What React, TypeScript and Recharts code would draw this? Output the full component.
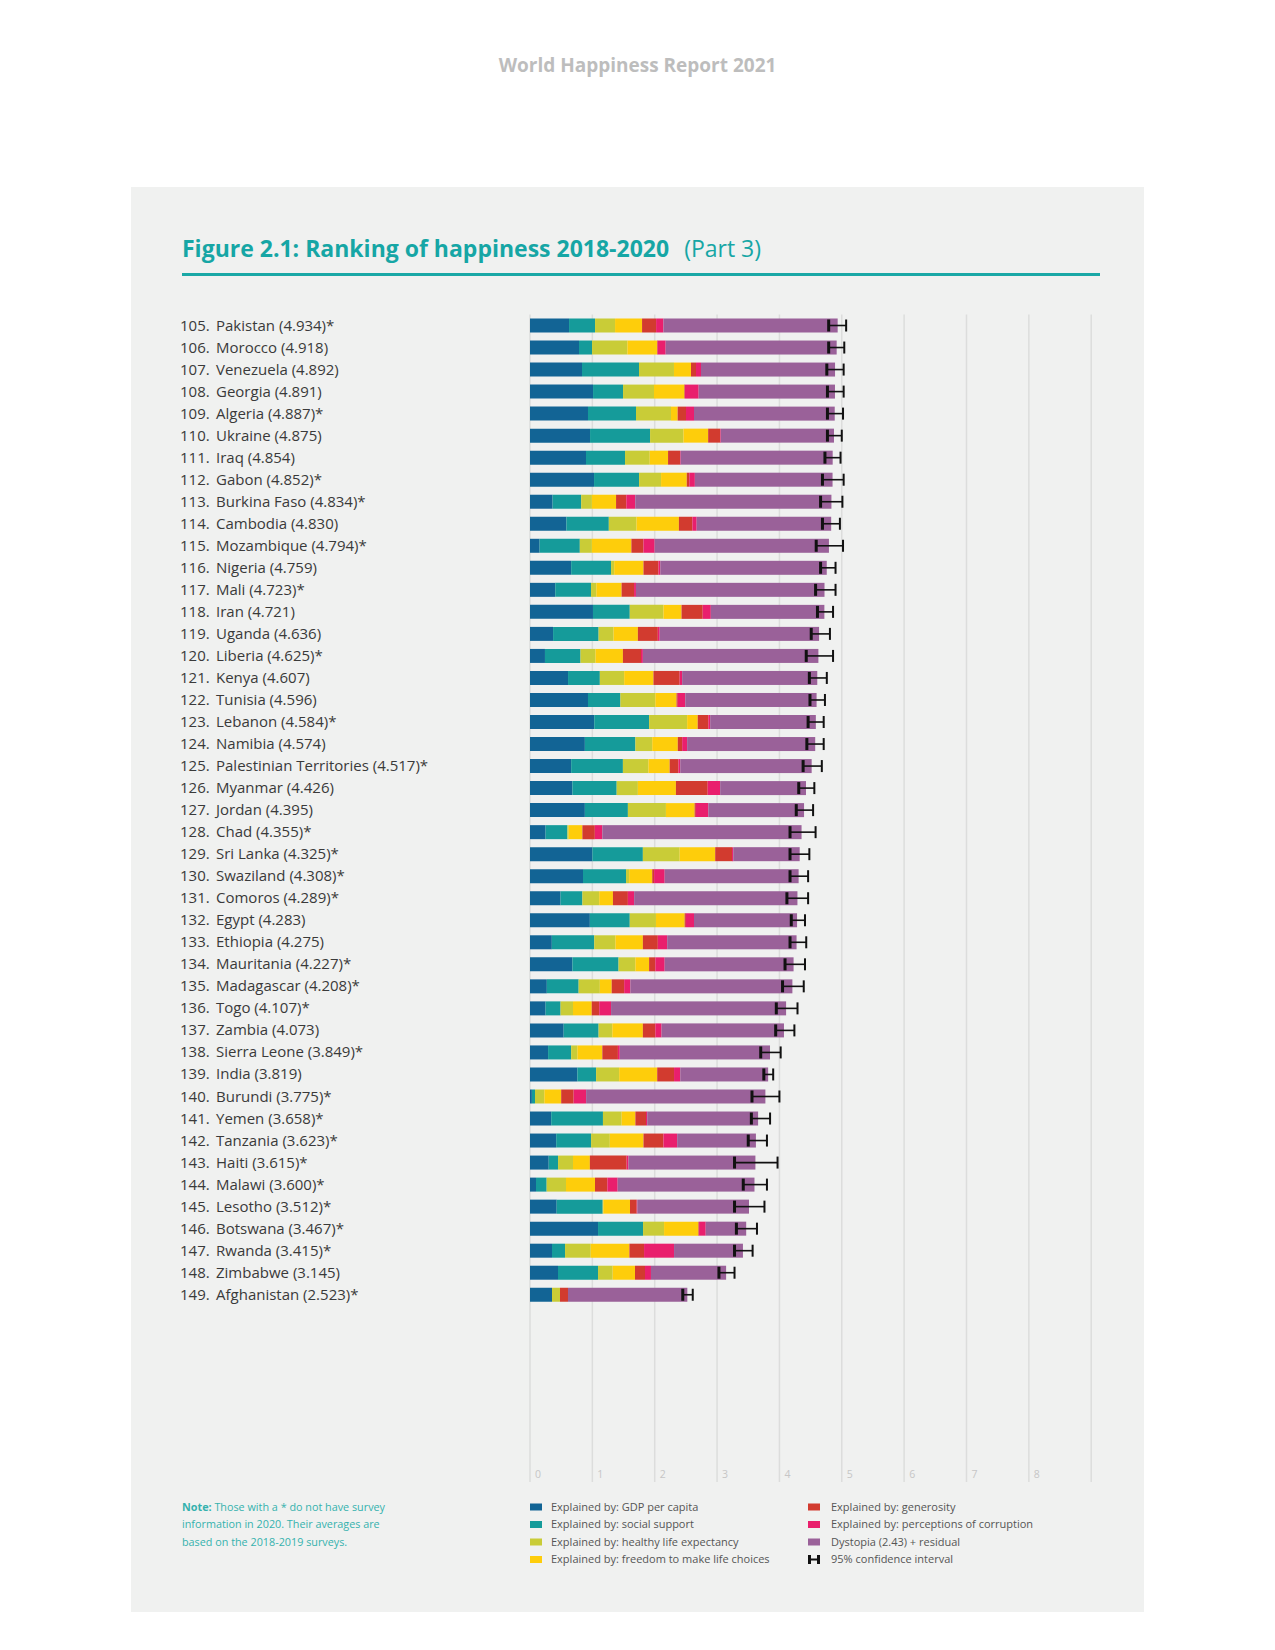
import React from 'react';
import { BarChart, Bar, XAxis, YAxis, CartesianGrid } from 'recharts';

const ranks = [105,106,107,108,109,110,111,112,113,114,115,116,117,118,119,120,121,122,123,124,125,126,127,128,129,130,131,132,133,134,135,136,137,138,139,140,141,142,143,144,145,146,147,148,149];
const countries = ['Pakistan','Morocco','Venezuela','Georgia','Algeria','Ukraine','Iraq','Gabon','Burkina Faso','Cambodia','Mozambique','Nigeria','Mali','Iran','Uganda','Liberia','Kenya','Tunisia','Lebanon','Namibia','Palestinian Territories','Myanmar','Jordan','Chad','Sri Lanka','Swaziland','Comoros','Egypt','Ethiopia','Mauritania','Madagascar','Togo','Zambia','Sierra Leone','India','Burundi','Yemen','Tanzania','Haiti','Malawi','Lesotho','Botswana','Rwanda','Zimbabwe','Afghanistan'];
const scores = [4.934,4.918,4.892,4.891,4.887,4.875,4.854,4.852,4.834,4.830,4.794,4.759,4.723,4.721,4.636,4.625,4.607,4.596,4.584,4.574,4.517,4.426,4.395,4.355,4.325,4.308,4.289,4.283,4.275,4.227,4.208,4.107,4.073,3.849,3.819,3.775,3.658,3.623,3.615,3.600,3.512,3.467,3.415,3.145,2.523];
const noSurvey2020 = [true,false,false,false,true,false,false,true,true,false,true,false,true,false,false,true,false,false,true,false,true,false,false,true,true,true,true,false,false,true,true,true,false,true,false,true,true,true,true,true,true,true,true,false,true];

const gdp =        [0.626,0.786,0.834,1.011,0.930,0.963,0.898,1.027,0.362,0.584,0.154,0.66,0.405,1.01,0.37,0.24,0.61,0.93,1.03,0.88,0.66,0.68,0.88,0.25,1.00,0.85,0.49,0.96,0.35,0.68,0.27,0.25,0.54,0.29,0.76,0.03,0.34,0.42,0.30,0.096,0.428,1.091,0.353,0.449,0.353];
const social =     [0.417,0.209,0.914,0.481,0.770,0.963,0.626,0.722,0.459,0.680,0.645,0.64,0.574,0.59,0.73,0.57,0.51,0.52,0.88,0.81,0.83,0.71,0.69,0.35,0.81,0.69,0.35,0.64,0.68,0.74,0.51,0.24,0.56,0.37,0.30,0.05,0.83,0.56,0.15,0.171,0.738,0.722,0.209,0.642,0.0];
const health =     [0.321,0.567,0.561,0.497,0.561,0.535,0.396,0.353,0.172,0.444,0.194,0.05,0.085,0.54,0.24,0.24,0.39,0.56,0.61,0.27,0.41,0.34,0.61,0.02,0.59,0.05,0.27,0.42,0.34,0.27,0.34,0.20,0.22,0.10,0.37,0.15,0.30,0.30,0.24,0.310,0.010,0.337,0.412,0.235,0.128];
const freedom =    [0.433,0.476,0.273,0.487,0.107,0.396,0.294,0.412,0.387,0.680,0.633,0.47,0.405,0.29,0.39,0.44,0.47,0.34,0.17,0.41,0.34,0.61,0.46,0.22,0.57,0.37,0.22,0.46,0.44,0.22,0.19,0.30,0.49,0.40,0.61,0.27,0.22,0.54,0.27,0.465,0.428,0.551,0.620,0.358,0.0];
const generosity = [0.225,0.010,0.080,0.010,0.134,0.193,0.193,0.040,0.164,0.215,0.193,0.24,0.20,0.34,0.32,0.29,0.42,0.02,0.17,0.07,0.14,0.51,0.02,0.20,0.27,0.03,0.24,0.02,0.24,0.10,0.20,0.12,0.20,0.25,0.27,0.20,0.17,0.32,0.59,0.198,0.107,0.010,0.235,0.160,0.128];
const corruption = [0.118,0.128,0.080,0.219,0.128,0.010,0.010,0.090,0.144,0.070,0.180,0.03,0.03,0.13,0.03,0.03,0.04,0.12,0.03,0.08,0.03,0.20,0.20,0.12,0.02,0.17,0.10,0.13,0.15,0.15,0.10,0.19,0.10,0.03,0.10,0.20,0.02,0.22,0.03,0.166,0.010,0.107,0.481,0.096,0.0];
const dystopia =   [2.794,2.742,2.150,2.186,2.257,1.815,2.437,2.208,3.146,2.157,2.795,2.669,3.024,1.821,2.556,2.815,2.167,2.106,1.694,2.054,2.107,1.376,1.535,3.195,1.065,2.148,2.619,1.653,2.075,2.067,2.598,2.807,1.963,2.409,1.409,2.875,1.778,1.263,2.035,2.194,1.791,0.649,1.105,1.205,1.914];
const ciLow =      [4.79,4.79,4.76,4.77,4.77,4.77,4.73,4.69,4.66,4.69,4.59,4.66,4.58,4.61,4.51,4.43,4.48,4.49,4.46,4.44,4.38,4.31,4.27,4.17,4.17,4.17,4.12,4.19,4.17,4.09,4.05,3.95,3.94,3.70,3.75,3.56,3.55,3.50,3.28,3.42,3.28,3.31,3.28,3.03,2.45];
const ciHigh =     [5.07,5.04,5.03,5.03,5.02,5.00,4.98,5.03,5.01,4.97,5.02,4.90,4.90,4.86,4.81,4.86,4.76,4.73,4.71,4.71,4.68,4.56,4.54,4.58,4.48,4.46,4.46,4.41,4.43,4.41,4.39,4.29,4.24,4.02,3.90,4.00,3.85,3.80,3.97,3.80,3.76,3.64,3.57,3.28,2.61];

const xTicks = [0,1,2,3,4,5,6,7,8,9];
const xTickLabels = ['0','1','2','3','4','5','6','7','8',''];

const seriesKeys = ['gdp','social','health','freedom','generosity','corruption','dystopia'];
const seriesColors = ['#126495','#159b9a','#c9cc37','#fecd0b','#d23b2f','#e91f6d','#9a6199'];
const legendLabels = [
  'Explained by: GDP per capita',
  'Explained by: social support',
  'Explained by: healthy life expectancy',
  'Explained by: freedom to make life choices',
  'Explained by: generosity',
  'Explained by: perceptions of corruption',
  'Dystopia (2.43) + residual',
  '95% confidence interval',
];

const rows = ranks.map((rank, i) => ({
  rank,
  name: countries[i],
  score: scores[i],
  star: noSurvey2020[i],
  gdp: gdp[i],
  social: social[i],
  health: health[i],
  freedom: freedom[i],
  generosity: generosity[i],
  corruption: corruption[i],
  dystopia: dystopia[i],
  low: ciLow[i],
  high: ciHigh[i],
}));

const FONT = "'Open Sans', 'Noto Sans', sans-serif";

const YTick = (props: any) => {
  const { x, y, payload } = props;
  const r = rows.find((d) => d.rank === payload.value);
  if (!r) return null;
  return (
    <g>
      <text x={x - 350} y={y} dy={5} fontSize={15} fill="#3a3a3a" fontFamily={FONT}>{`${r.rank}.`}</text>
      <text x={x - 314} y={y} dy={5} fontSize={15} fill="#3a3a3a" fontFamily={FONT}>
        {`${r.name} (${r.score.toFixed(3)})${r.star ? '*' : ''}`}
      </text>
    </g>
  );
};

const XTick = (props: any) => {
  const { x, y, payload } = props;
  const idx = xTicks.indexOf(Number(payload?.value));
  const label = idx >= 0 ? xTickLabels[idx] : '';
  if (!label) return null;
  return (
    <text x={x + 5} y={y - 4} fontSize={10.5} fill="#c6c6c6" fontFamily={FONT}>{label}</text>
  );
};

const DystopiaShape = (props: any) => {
  const { x, y, width, height, fill, payload } = props;
  const ppu = payload.dystopia > 0 ? width / payload.dystopia : 0;
  const end = x + width;
  const lowX = end - (payload.score - payload.low) * ppu;
  const highX = end + (payload.high - payload.score) * ppu;
  const cy = y + height / 2;
  return (
    <g>
      <rect x={x} y={y} width={width} height={height} fill={fill} />
      <line x1={lowX} x2={highX} y1={cy} y2={cy} stroke="#111" strokeWidth={1.6} />
      <rect x={lowX - 1.5} y={cy - 6} width={3} height={12} fill="#111" />
      <rect x={highX - 1} y={cy - 6} width={2} height={12} fill="#111" />
    </g>
  );
};

export default function App() {
  return (
    <div style={{ position: 'relative', width: 1275, height: 1650, background: '#fff', overflow: 'hidden' }}>
      <style>{`body{margin:0;}`}</style>
      <div style={{ position: 'absolute', left: 131, top: 187, width: 1013, height: 1425, background: '#f0f1f0' }} />
      <div style={{ position: 'absolute', left: 0, top: 0 }}>
        <BarChart
          width={1275}
          height={1650}
          data={rows}
          layout="vertical"
          margin={{ top: 314.5, right: 183.8, bottom: 167, left: 170 }}
          barSize={14}
        >
          <CartesianGrid vertical horizontal={false} stroke="#dcdddc" strokeWidth={1.5} />
          <XAxis
            type="number"
            domain={[0, 9]}
            ticks={xTicks}
            interval={0}
            axisLine={false}
            tickLine={false}
            tickSize={0}
            tickMargin={0}
            height={1}
            tick={<XTick />}
          />
          <YAxis
            type="number"
            dataKey="rank"
            domain={[104.5, 157.5]}
            ticks={ranks}
            interval={0}
            width={360}
            axisLine={false}
            tickLine={false}
            tickSize={0}
            tickMargin={0}
            tick={<YTick />}
          />
          {seriesKeys.map((k, i) =>
            k === 'dystopia' ? (
              <Bar key={k} dataKey={k} stackId="s" fill={seriesColors[i]} isAnimationActive={false} shape={<DystopiaShape />} />
            ) : (
              <Bar key={k} dataKey={k} stackId="s" fill={seriesColors[i]} isAnimationActive={false} />
            )
          )}
        </BarChart>
      </div>
      <svg width={1275} height={1650} style={{ position: 'absolute', left: 0, top: 0, pointerEvents: 'none' }}>
        <text x={637.5} y={72} textAnchor="middle" fontFamily={FONT} fontWeight={700} fontSize={19} fill="#bdbdbd">World Happiness Report 2021</text>
        <text x={182} y={257} fontFamily={FONT} fontSize={23} fill="#16a6a5">
          <tspan fontWeight={700}>Figure 2.1: Ranking of happiness 2018-2020</tspan>
          <tspan dx={15} fontWeight={400}>(Part 3)</tspan>
        </text>
        <rect x={182} y={273} width={918} height={3} fill="#1aa8a6" />
        <text fontFamily={FONT} fontSize={10.8} fill="#35b1ae">
          <tspan x={182} y={1510.5}><tspan fontWeight={700}>Note:</tspan> Those with a * do not have survey</tspan>
          <tspan x={182} y={1528}>information in 2020. Their averages are</tspan>
          <tspan x={182} y={1545.5}>based on the 2018-2019 surveys.</tspan>
        </text>
        {legendLabels.map((lab, i) => {
          const col = i < 4 ? 0 : 1;
          const row = i % 4;
          const sx = col === 0 ? 530 : 808;
          const tx = col === 0 ? 551 : 831;
          const cy = 1507 + row * 17.5;
          return (
            <g key={lab}>
              {i < 7 ? (
                <rect x={sx} y={cy - 3.5} width={12} height={7} fill={seriesColors[i]} />
              ) : (
                <g>
                  <rect x={sx} y={cy - 1} width={12} height={2} fill="#111" />
                  <rect x={sx} y={cy - 4.5} width={3} height={9} fill="#111" />
                  <rect x={sx + 9} y={cy - 4.5} width={3} height={9} fill="#111" />
                </g>
              )}
              <text x={tx} y={cy + 3.8} fontFamily={FONT} fontSize={11} fill="#555">{lab}</text>
            </g>
          );
        })}
      </svg>
    </div>
  );
}
